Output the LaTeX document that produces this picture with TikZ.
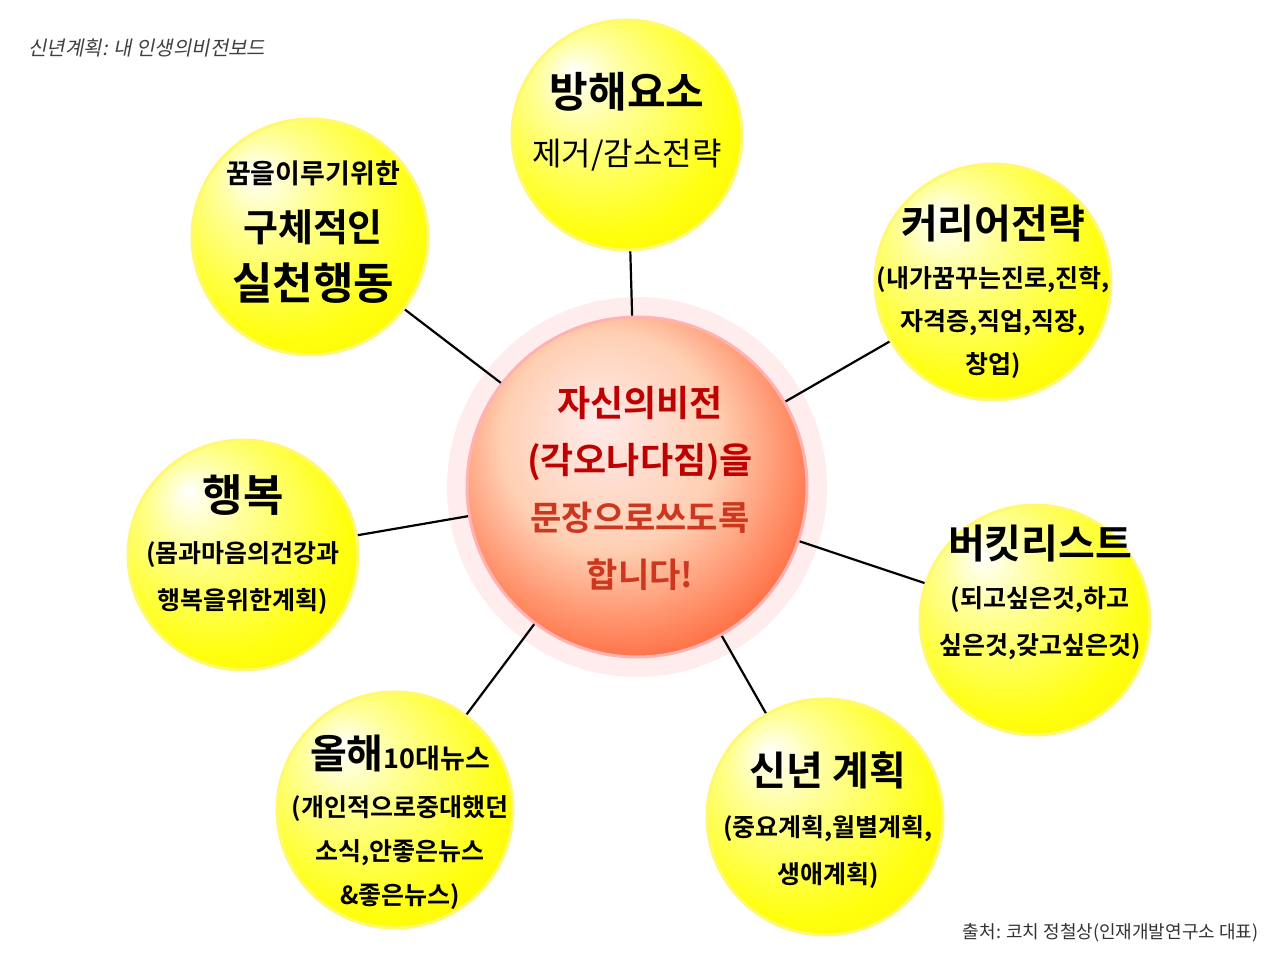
\documentclass[tikz,border=0pt]{standalone}
\usepackage{fontspec}
\setmainfont{Noto Sans CJK KR}[BoldFont={* Bold}]
\newfontfamily\slantkr{Noto Sans CJK KR}[FakeSlant=0.2]
\usetikzlibrary{shadings}
\definecolor{lowred}{RGB}{205,55,30}
\pgfdeclareradialshading{yball}{\pgfpoint{-12bp}{14bp}}{color(0bp)=(white); color(10bp)=(yellow!40!white); color(28bp)=(yellow!95!white); color(44bp)=(yellow!85!orange); color(50bp)=(yellow!70!orange)}
\pgfdeclareradialshading{rball}{\pgfpoint{-6bp}{10bp}}{color(0bp)=(red!8!white); color(16bp)=(red!25!orange!30!white); color(32bp)=(red!55!orange!80!white); color(46bp)=(red!80!black); color(50bp)=(red!60!black)}
\tikzset{
  yb/.style={circle, minimum size=#1, shading=yball, draw=yellow!55!white, line width=3pt, inner sep=0pt},
  tx/.style={align=center, font=\bfseries\fontsize{25}{#1}\selectfont},
  link/.style={line width=2.2pt, black}
}
\begin{document}
\begin{tikzpicture}[x=1pt,y=-1pt]
\useasboundingbox (0,0) rectangle (1280,960);
\fill[white] (0,0) rectangle (1280,960);
\node[font=\slantkr\fontsize{20}{22}\selectfont, text=black!75, anchor=west] (title) at (25,48) {신년계획: 내 인생의비전보드};
\node[font=\fontsize{18}{20}\selectfont, text=black!80, anchor=east] (src) at (1262,933) {출처: 코치 정철상(인재개발연구소 대표)};
\fill[red!10, opacity=0.7] (637,487) circle (190);
\node[circle, minimum size=340, shading=rball, draw=red!30!white, line width=3pt] (c) at (637,487) {};
\node[yb=230] (n1) at (627,135) {};
\node[yb=236] (n2) at (310,237) {};
\node[yb=236] (n3) at (993,282) {};
\node[yb=230] (n4) at (243,555) {};
\node[yb=230] (n5) at (1035,620) {};
\node[yb=236] (n6) at (395,810) {};
\node[yb=236] (n7) at (825,817) {};
\foreach \n in {n1,n2,n3,n4,n5,n6,n7} \draw[link] (c) -- (\n);
\node[tx=58] (t1) at (627,122) {\fontsize{42}{50}\selectfont 방해요소\\\mdseries\fontsize{32}{38}\selectfont 제거/감소전략};
\node[tx=58] (t2) at (313,232) {\fontsize{27}{36}\selectfont 꿈을이루기위한\\\fontsize{38}{48}\selectfont 구체적인\\\fontsize{44}{50}\selectfont 실천행동};
\node[tx=43] (t3) at (993,292) {\fontsize{40}{52}\selectfont 커리어전략\\[6pt](내가꿈꾸는진로,진학,\\자격증,직업,직장,\\창업)};
\node[tx=47] (t4) at (243,545) {\fontsize{44}{50}\selectfont 행복\\[4pt](몸과마음의건강과\\행복을위한계획)};
\node[tx=47] (t5) at (1040,592) {\fontsize{40}{50}\selectfont 버킷리스트\\[2pt](되고싶은것,하고\\싶은것,갖고싶은것)};
\node[tx=44] (t6) at (400,822) {{\fontsize{40}{50}\selectfont 올해}{\fontsize{27}{50}\selectfont 10대뉴스}\\[4pt](개인적으로중대했던\\소식,안좋은뉴스\\\&좋은뉴스)};
\node[tx=47] (t7) at (828,820) {\fontsize{40}{50}\selectfont 신년 계획\\[4pt](중요계획,월별계획,\\생애계획)};
\node[align=center, font=\bfseries\fontsize{36}{57}\selectfont] (tc) at (640,488) {\color{red!75!black}자신의비전\\\color{red!75!black}(각오나다짐)을\\\color{lowred}\fontsize{34}{56}\selectfont 문장으로쓰도록\\\color{lowred}\fontsize{34}{56}\selectfont 합니다!};
\end{tikzpicture}
\end{document}
